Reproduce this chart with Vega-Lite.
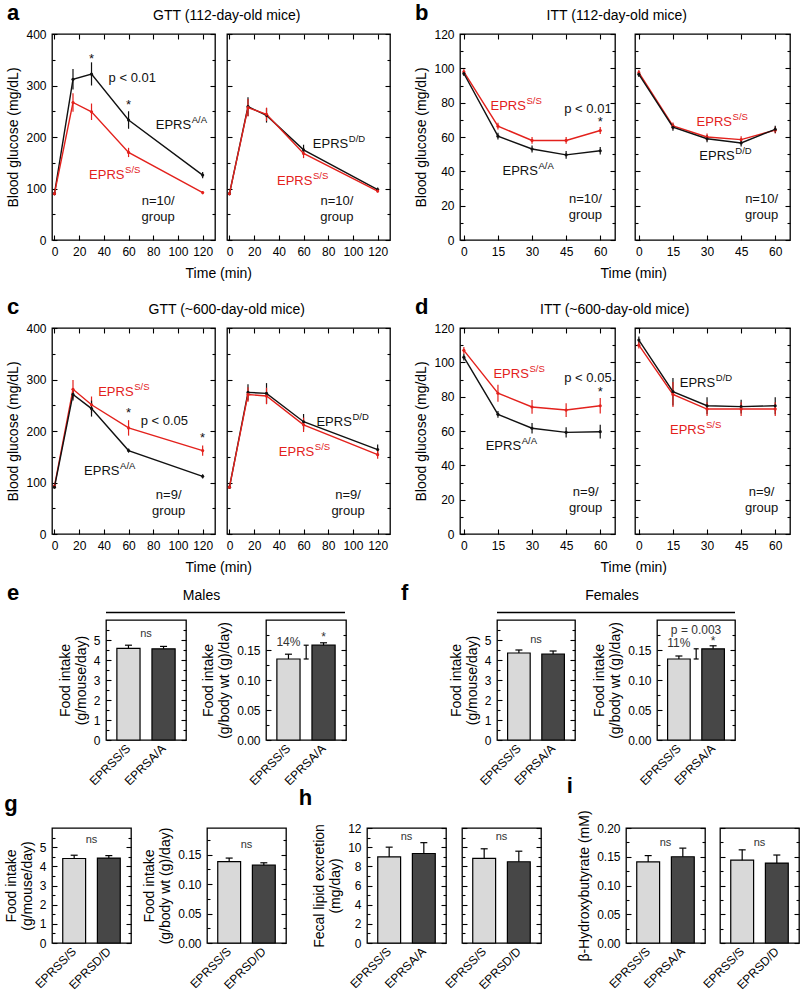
{
"$schema":"https://vega.github.io/schema/vega-lite/v6.json",
"padding":{"left":3,"top":1,"right":2,"bottom":2},
"background":"white",
"config":{
 "font":"Liberation Sans",
 "view":{"stroke":"#000","strokeWidth":1.3},
 "axis":{"grid":false,"domain":false,"tickSize":-5,"tickColor":"#000","tickWidth":1.1,"labelFontSize":12,"labelColor":"#000","labelPadding":11,"labelFlush":false,"labelOverlap":false,"titleFontSize":14,"titleFontWeight":"normal","titleColor":"#000","titlePadding":5},
 "title":{"fontSize":14,"fontWeight":"normal","color":"#000"}
},
"datasets":{
"aL":[
{"k":"d","c":"k","t":0,"g":90,"lo":87,"hi":93},{"k":"d","c":"k","t":15,"g":312,"lo":292,"hi":332},{"k":"d","c":"k","t":30,"g":322,"lo":300,"hi":345},{"k":"d","c":"k","t":60,"g":233,"lo":216,"hi":250},{"k":"d","c":"k","t":120,"g":126,"lo":120,"hi":132},
{"k":"d","c":"r","t":0,"g":90,"lo":87,"hi":93},{"k":"d","c":"r","t":15,"g":267,"lo":249,"hi":285},{"k":"d","c":"r","t":30,"g":249,"lo":233,"hi":265},{"k":"d","c":"r","t":60,"g":170,"lo":161,"hi":179},{"k":"d","c":"r","t":120,"g":92,"lo":89,"hi":95},
{"k":"m","c":"k","t":82,"g":223,"txt":"EPRS"},{"k":"s","c":"k","t":82,"g":223,"txt":"A/A"},
{"k":"m","c":"r","t":28,"g":126,"txt":"EPRS"},{"k":"s","c":"r","t":28,"g":126,"txt":"S/S"},
{"k":"p","c":"k","t":30,"g":352,"txt":"*"},{"k":"p","c":"k","t":60,"g":263,"txt":"*"},{"k":"p","c":"k","t":63,"g":314,"txt":"p < 0.01"},{"k":"p","c":"k","t":84,"g":76,"txt":"n=10/"},{"k":"p","c":"k","t":84,"g":44,"txt":"group"}],
"aR":[
{"k":"d","c":"k","t":0,"g":90,"lo":87,"hi":93},{"k":"d","c":"k","t":15,"g":259,"lo":241,"hi":277},{"k":"d","c":"k","t":30,"g":242,"lo":228,"hi":256},{"k":"d","c":"k","t":60,"g":175,"lo":165,"hi":185},{"k":"d","c":"k","t":120,"g":98,"lo":94,"hi":102},
{"k":"d","c":"r","t":0,"g":90,"lo":87,"hi":93},{"k":"d","c":"r","t":15,"g":257,"lo":240,"hi":274},{"k":"d","c":"r","t":30,"g":244,"lo":231,"hi":257},{"k":"d","c":"r","t":60,"g":168,"lo":159,"hi":177},{"k":"d","c":"r","t":120,"g":95,"lo":92,"hi":98},
{"k":"m","c":"k","t":67.5,"g":186,"txt":"EPRS"},{"k":"s","c":"k","t":67.5,"g":186,"txt":"D/D"},
{"k":"m","c":"r","t":38.5,"g":115,"txt":"EPRS"},{"k":"s","c":"r","t":38.5,"g":115,"txt":"S/S"},
{"k":"p","c":"k","t":87,"g":76,"txt":"n=10/"},{"k":"p","c":"k","t":87,"g":44,"txt":"group"}],
"bL":[
{"k":"d","c":"r","t":0,"g":98,"lo":96.5,"hi":99.5},{"k":"d","c":"r","t":15,"g":66.3,"lo":64.3,"hi":68.3},{"k":"d","c":"r","t":30,"g":58,"lo":56,"hi":60},{"k":"d","c":"r","t":45,"g":58,"lo":56,"hi":60},{"k":"d","c":"r","t":60,"g":63.8,"lo":61.8,"hi":65.8},
{"k":"d","c":"k","t":0,"g":97,"lo":95.5,"hi":98.5},{"k":"d","c":"k","t":15,"g":60.5,"lo":58.5,"hi":62.5},{"k":"d","c":"k","t":30,"g":53,"lo":51,"hi":55},{"k":"d","c":"k","t":45,"g":49.6,"lo":47.4,"hi":51.8},{"k":"d","c":"k","t":60,"g":52,"lo":49.8,"hi":54.2},
{"k":"m","c":"r","t":11.7,"g":78,"txt":"EPRS"},{"k":"s","c":"r","t":11.7,"g":78,"txt":"S/S"},
{"k":"m","c":"k","t":17,"g":40.4,"txt":"EPRS"},{"k":"s","c":"k","t":17,"g":40.4,"txt":"A/A"},
{"k":"p","c":"k","t":54.6,"g":76.5,"txt":"p < 0.01"},{"k":"p","c":"k","t":60,"g":69,"txt":"*"},{"k":"p","c":"k","t":53.5,"g":23.8,"txt":"n=10/"},{"k":"p","c":"k","t":53.5,"g":14.5,"txt":"group"}],
"bR":[
{"k":"d","c":"r","t":0,"g":97.5,"lo":96,"hi":99},{"k":"d","c":"r","t":15,"g":66.5,"lo":64.5,"hi":68.5},{"k":"d","c":"r","t":30,"g":60,"lo":58,"hi":62},{"k":"d","c":"r","t":45,"g":58.5,"lo":56.5,"hi":60.5},{"k":"d","c":"r","t":60,"g":64,"lo":62,"hi":66},
{"k":"d","c":"k","t":0,"g":96.5,"lo":95,"hi":98},{"k":"d","c":"k","t":15,"g":65.7,"lo":63.7,"hi":67.7},{"k":"d","c":"k","t":30,"g":59,"lo":57,"hi":61},{"k":"d","c":"k","t":45,"g":56.5,"lo":54.5,"hi":58.5},{"k":"d","c":"k","t":60,"g":64.5,"lo":62.5,"hi":66.5},
{"k":"m","c":"r","t":25.4,"g":68.7,"txt":"EPRS"},{"k":"s","c":"r","t":25.4,"g":68.7,"txt":"S/S"},
{"k":"m","c":"k","t":26.6,"g":48.8,"txt":"EPRS"},{"k":"s","c":"k","t":26.6,"g":48.8,"txt":"D/D"},
{"k":"p","c":"k","t":54,"g":23.8,"txt":"n=10/"},{"k":"p","c":"k","t":54,"g":14.5,"txt":"group"}],
"cL":[
{"k":"d","c":"r","t":0,"g":93,"lo":90,"hi":96},{"k":"d","c":"r","t":15,"g":281,"lo":263,"hi":299},{"k":"d","c":"r","t":30,"g":251,"lo":235,"hi":267},{"k":"d","c":"r","t":60,"g":206,"lo":191,"hi":221},{"k":"d","c":"r","t":120,"g":162,"lo":152,"hi":172},
{"k":"d","c":"k","t":0,"g":91,"lo":88,"hi":94},{"k":"d","c":"k","t":15,"g":271,"lo":259,"hi":283},{"k":"d","c":"k","t":30,"g":243.5,"lo":228,"hi":259},{"k":"d","c":"k","t":60,"g":162,"lo":158,"hi":166},{"k":"d","c":"k","t":120,"g":112,"lo":108,"hi":116},
{"k":"m","c":"r","t":35.4,"g":276,"txt":"EPRS"},{"k":"s","c":"r","t":35.4,"g":276,"txt":"S/S"},
{"k":"m","c":"k","t":24,"g":123,"txt":"EPRS"},{"k":"s","c":"k","t":24,"g":123,"txt":"A/A"},
{"k":"p","c":"k","t":60,"g":234,"txt":"*"},{"k":"p","c":"k","t":89,"g":219,"txt":"p < 0.05"},{"k":"p","c":"k","t":120,"g":187,"txt":"*"},{"k":"p","c":"k","t":92.5,"g":75,"txt":"n=9/"},{"k":"p","c":"k","t":92.5,"g":45,"txt":"group"}],
"cR":[
{"k":"d","c":"k","t":0,"g":91,"lo":88,"hi":94},{"k":"d","c":"k","t":15,"g":275,"lo":259,"hi":291},{"k":"d","c":"k","t":30,"g":273,"lo":253,"hi":293},{"k":"d","c":"k","t":60,"g":218,"lo":203,"hi":233},{"k":"d","c":"k","t":120,"g":164,"lo":154,"hi":174},
{"k":"d","c":"r","t":0,"g":91,"lo":88,"hi":94},{"k":"d","c":"r","t":15,"g":271,"lo":257,"hi":285},{"k":"d","c":"r","t":30,"g":268,"lo":252,"hi":284},{"k":"d","c":"r","t":60,"g":212,"lo":198,"hi":226},{"k":"d","c":"r","t":120,"g":154,"lo":146,"hi":162},
{"k":"m","c":"k","t":70.4,"g":218,"txt":"EPRS"},{"k":"s","c":"k","t":70.4,"g":218,"txt":"D/D"},
{"k":"m","c":"r","t":40,"g":160,"txt":"EPRS"},{"k":"s","c":"r","t":40,"g":160,"txt":"S/S"},
{"k":"p","c":"k","t":96,"g":75,"txt":"n=9/"},{"k":"p","c":"k","t":96,"g":45,"txt":"group"}],
"dL":[
{"k":"d","c":"r","t":0,"g":107,"lo":105,"hi":109},{"k":"d","c":"r","t":15,"g":82,"lo":77,"hi":87},{"k":"d","c":"r","t":30,"g":74,"lo":70,"hi":78},{"k":"d","c":"r","t":45,"g":72.2,"lo":68.2,"hi":76.2},{"k":"d","c":"r","t":60,"g":74.7,"lo":70.2,"hi":79.2},
{"k":"d","c":"k","t":0,"g":103,"lo":101,"hi":105},{"k":"d","c":"k","t":15,"g":69.7,"lo":67.7,"hi":71.7},{"k":"d","c":"k","t":30,"g":61.6,"lo":58.6,"hi":64.6},{"k":"d","c":"k","t":45,"g":59.2,"lo":56.2,"hi":62.2},{"k":"d","c":"k","t":60,"g":59.6,"lo":55.6,"hi":63.6},
{"k":"m","c":"r","t":13,"g":93,"txt":"EPRS"},{"k":"s","c":"r","t":13,"g":93,"txt":"S/S"},
{"k":"m","c":"k","t":9.6,"g":51,"txt":"EPRS"},{"k":"s","c":"k","t":9.6,"g":51,"txt":"A/A"},
{"k":"p","c":"k","t":54.6,"g":90.6,"txt":"p < 0.05"},{"k":"p","c":"k","t":60,"g":83,"txt":"*"},{"k":"p","c":"k","t":53.6,"g":24.4,"txt":"n=9/"},{"k":"p","c":"k","t":53.6,"g":15.2,"txt":"group"}],
"dR":[
{"k":"d","c":"k","t":0,"g":113,"lo":111,"hi":115},{"k":"d","c":"k","t":15,"g":82.9,"lo":74.9,"hi":90.9},{"k":"d","c":"k","t":30,"g":74.7,"lo":69.7,"hi":79.7},{"k":"d","c":"k","t":45,"g":74.2,"lo":70.2,"hi":78.2},{"k":"d","c":"k","t":60,"g":74.7,"lo":69.7,"hi":79.7},
{"k":"d","c":"r","t":0,"g":110,"lo":108,"hi":112},{"k":"d","c":"r","t":15,"g":81.3,"lo":74,"hi":88.6},{"k":"d","c":"r","t":30,"g":72.8,"lo":68.8,"hi":76.8},{"k":"d","c":"r","t":45,"g":72.8,"lo":68.8,"hi":76.8},{"k":"d","c":"r","t":60,"g":72.8,"lo":68.8,"hi":76.8},
{"k":"m","c":"k","t":18,"g":87.7,"txt":"EPRS"},{"k":"s","c":"k","t":18,"g":87.7,"txt":"D/D"},
{"k":"m","c":"r","t":13.7,"g":60.6,"txt":"EPRS"},{"k":"s","c":"r","t":13.7,"g":60.6,"txt":"S/S"},
{"k":"p","c":"k","t":54,"g":24.4,"txt":"n=9/"},{"k":"p","c":"k","t":54,"g":15.2,"txt":"group"}],
"eL":[{"k":"d","c":"L","x":"EPRSS/S","v":4.58,"hi":4.74},{"k":"d","c":"D","x":"EPRSA/A","v":4.56,"hi":4.68},{"k":"c","x":"EPRSS/S","v":5.3,"txt":"ns"}],
"eR":[{"k":"d","c":"L","x":"EPRSS/S","v":0.135,"hi":0.143},{"k":"d","c":"D","x":"EPRSA/A","v":0.158,"hi":0.162},{"k":"b","x":"EPRSS/S","v":0.163,"txt":"14%"},{"k":"b","x":"EPRSA/A","v":0.172,"txt":"*"},{"k":"r","x":"EPRSA/A","v":0.135,"hi":0.158},{"k":"rc","x":"EPRSA/A","v":0.135},{"k":"rc","x":"EPRSA/A","v":0.158}],
"fL":[{"k":"d","c":"L","x":"EPRSS/S","v":4.35,"hi":4.5},{"k":"d","c":"D","x":"EPRSA/A","v":4.3,"hi":4.45},{"k":"c","x":"EPRSS/S","v":5.0,"txt":"ns"}],
"fR":[{"k":"d","c":"L","x":"EPRSS/S","v":0.135,"hi":0.14},{"k":"d","c":"D","x":"EPRSA/A","v":0.152,"hi":0.157},{"k":"c","x":"EPRSS/S","v":0.184,"txt":"p = 0.003"},{"k":"b","x":"EPRSS/S","v":0.162,"txt":"11%"},{"k":"b","x":"EPRSA/A","v":0.165,"txt":"*"},{"k":"r","x":"EPRSA/A","v":0.135,"hi":0.152},{"k":"rc","x":"EPRSA/A","v":0.135},{"k":"rc","x":"EPRSA/A","v":0.152}],
"gL":[{"k":"d","c":"L","x":"EPRSS/S","v":4.41,"hi":4.58},{"k":"d","c":"D","x":"EPRSD/D","v":4.43,"hi":4.56},{"k":"c","x":"EPRSS/S","v":5.37,"txt":"ns"}],
"gR":[{"k":"d","c":"L","x":"EPRSS/S","v":0.138,"hi":0.144},{"k":"d","c":"D","x":"EPRSD/D","v":0.132,"hi":0.136},{"k":"c","x":"EPRSS/S","v":0.167,"txt":"ns"}],
"hL":[{"k":"d","c":"L","x":"EPRSS/S","v":8.98,"hi":10.0},{"k":"d","c":"D","x":"EPRSA/A","v":9.34,"hi":10.47},{"k":"c","x":"EPRSS/S","v":11.1,"txt":"ns"}],
"hR":[{"k":"d","c":"L","x":"EPRSS/S","v":8.84,"hi":9.83},{"k":"d","c":"D","x":"EPRSD/D","v":8.48,"hi":9.58},{"k":"c","x":"EPRSS/S","v":11.1,"txt":"ns"}],
"iL":[{"k":"d","c":"L","x":"EPRSS/S","v":0.141,"hi":0.152},{"k":"d","c":"D","x":"EPRSA/A","v":0.150,"hi":0.165},{"k":"c","x":"EPRSS/S","v":0.174,"txt":"ns"}],
"iR":[{"k":"d","c":"L","x":"EPRSS/S","v":0.144,"hi":0.162},{"k":"d","c":"D","x":"EPRSD/D","v":0.139,"hi":0.153},{"k":"c","x":"EPRSS/S","v":0.174,"txt":"ns"}]
},
"spacing":6,
"vconcat":[
{"spacing":14,"vconcat":[
 {"spacing":22,"hconcat":[
  {"title":{"text":"GTT (112-day-old mice)","anchor":"middle","offset":-22,"dx":28},"hconcat":[
   {"title":{"text":"Time (min)","orient":"bottom","anchor":"middle","offset":9,"dx":20},"bounds":"flush","spacing":12,"hconcat":[
    {"width":163,"height":206,"data":{"name":"aL"},"title":{"text":"a","anchor":"start","fontSize":22,"fontWeight":"bold","offset":3},"resolve":{"axis":{"x":"independent","y":"independent"}},"layer":[
     {"transform":[{"filter":"datum.k=='d'"}],"mark":{"type":"rule","strokeWidth":1.2},"encoding":{"x":{"field":"t","type":"quantitative","scale":{"domain":[-2,130],"nice":false,"zero":false},"axis":{"orient":"bottom","values":[0,20,40,60,80,100,120],"title":null}},"y":{"field":"lo","type":"quantitative","scale":{"domain":[0,400],"nice":false},"axis":{"orient":"left","values":[0,100,200,300,400],"title":"Blood glucose (mg/dL)"}},"y2":{"field":"hi"},"color":{"field":"c","type":"nominal","scale":{"domain":["k","r","L","D"],"range":["#111111","#e3211c","#d9d9d9","#474747"]},"legend":null}}},
     {"transform":[{"filter":"datum.k=='d'"}],"mark":{"type":"line","strokeWidth":1.4},"encoding":{"x":{"field":"t","type":"quantitative","axis":{"orient":"top","values":[0,20,40,60,80,100,120],"labels":false,"title":null}},"y":{"field":"g","type":"quantitative","axis":{"orient":"right","values":[0,100,200,300,400],"labels":false,"title":null}},"color":{"field":"c","type":"nominal","legend":null}}},
     {"transform":[{"filter":"datum.k=='d'"}],"mark":{"type":"point","filled":true,"size":10,"opacity":1},"encoding":{"x":{"field":"t","type":"quantitative","axis":null},"y":{"field":"g","type":"quantitative","axis":{"orient":"left","values":[50,150,250,350],"labels":false,"title":null,"tickSize":-3}},"color":{"field":"c","type":"nominal","legend":null}}},
     {"transform":[{"filter":"datum.k=='m'"}],"mark":{"type":"text","align":"left","baseline":"middle","fontSize":13},"encoding":{"x":{"field":"t","type":"quantitative","axis":null},"y":{"field":"g","type":"quantitative","axis":{"orient":"right","values":[50,150,250,350],"labels":false,"title":null,"tickSize":-3}},"text":{"field":"txt"},"color":{"field":"c","type":"nominal","legend":null}}},
     {"transform":[{"filter":"datum.k=='s'"}],"mark":{"type":"text","align":"left","baseline":"middle","fontSize":9.5,"dx":36,"dy":-5},"encoding":{"x":{"field":"t","type":"quantitative","axis":null},"y":{"field":"g","type":"quantitative","axis":null},"text":{"field":"txt"},"color":{"field":"c","type":"nominal","legend":null}}},
     {"transform":[{"filter":"datum.k=='p'"}],"mark":{"type":"text","align":"center","baseline":"middle","fontSize":13},"encoding":{"x":{"field":"t","type":"quantitative","axis":null},"y":{"field":"g","type":"quantitative","axis":null},"text":{"field":"txt"},"color":{"field":"c","type":"nominal","legend":null}}}
    ]},
    {"width":163,"height":206,"data":{"name":"aR"},"resolve":{"axis":{"x":"independent","y":"independent"}},"layer":[
     {"transform":[{"filter":"datum.k=='d'"}],"mark":{"type":"rule","strokeWidth":1.2},"encoding":{"x":{"field":"t","type":"quantitative","scale":{"domain":[-2,130],"nice":false,"zero":false},"axis":{"orient":"bottom","values":[0,20,40,60,80,100,120],"title":null}},"y":{"field":"lo","type":"quantitative","scale":{"domain":[0,400],"nice":false},"axis":{"orient":"left","values":[0,100,200,300,400],"labels":false,"title":null}},"y2":{"field":"hi"},"color":{"field":"c","type":"nominal","scale":{"domain":["k","r","L","D"],"range":["#111111","#e3211c","#d9d9d9","#474747"]},"legend":null}}},
     {"transform":[{"filter":"datum.k=='d'"}],"mark":{"type":"line","strokeWidth":1.4},"encoding":{"x":{"field":"t","type":"quantitative","axis":{"orient":"top","values":[0,20,40,60,80,100,120],"labels":false,"title":null}},"y":{"field":"g","type":"quantitative","axis":{"orient":"right","values":[0,100,200,300,400],"labels":false,"title":null}},"color":{"field":"c","type":"nominal","legend":null}}},
     {"transform":[{"filter":"datum.k=='d'"}],"mark":{"type":"point","filled":true,"size":10,"opacity":1},"encoding":{"x":{"field":"t","type":"quantitative","axis":null},"y":{"field":"g","type":"quantitative","axis":{"orient":"left","values":[50,150,250,350],"labels":false,"title":null,"tickSize":-3}},"color":{"field":"c","type":"nominal","legend":null}}},
     {"transform":[{"filter":"datum.k=='m'"}],"mark":{"type":"text","align":"left","baseline":"middle","fontSize":13},"encoding":{"x":{"field":"t","type":"quantitative","axis":null},"y":{"field":"g","type":"quantitative","axis":{"orient":"right","values":[50,150,250,350],"labels":false,"title":null,"tickSize":-3}},"text":{"field":"txt"},"color":{"field":"c","type":"nominal","legend":null}}},
     {"transform":[{"filter":"datum.k=='s'"}],"mark":{"type":"text","align":"left","baseline":"middle","fontSize":9.5,"dx":36,"dy":-5},"encoding":{"x":{"field":"t","type":"quantitative","axis":null},"y":{"field":"g","type":"quantitative","axis":null},"text":{"field":"txt"},"color":{"field":"c","type":"nominal","legend":null}}},
     {"transform":[{"filter":"datum.k=='p'"}],"mark":{"type":"text","align":"center","baseline":"middle","fontSize":13},"encoding":{"x":{"field":"t","type":"quantitative","axis":null},"y":{"field":"g","type":"quantitative","axis":null},"text":{"field":"txt"},"color":{"field":"c","type":"nominal","legend":null}}}
    ]}
   ]}
  ]},
  {"title":{"text":"ITT (112-day-old mice)","anchor":"middle","offset":-22,"dx":14},"hconcat":[
   {"title":{"text":"Time (min)","orient":"bottom","anchor":"middle","offset":9,"dx":31},"bounds":"flush","spacing":20,"hconcat":[
    {"width":155,"height":206,"data":{"name":"bL"},"title":{"text":"b","anchor":"start","fontSize":22,"fontWeight":"bold","offset":3},"resolve":{"axis":{"x":"independent","y":"independent"}},"layer":[
     {"transform":[{"filter":"datum.k=='d'"}],"mark":{"type":"rule","strokeWidth":1.2},"encoding":{"x":{"field":"t","type":"quantitative","scale":{"domain":[-1.7,66.5],"nice":false,"zero":false},"axis":{"orient":"bottom","values":[0,15,30,45,60],"title":null}},"y":{"field":"lo","type":"quantitative","scale":{"domain":[0,120],"nice":false},"axis":{"orient":"left","values":[0,20,40,60,80,100,120],"title":"Blood glucose (mg/dL)"}},"y2":{"field":"hi"},"color":{"field":"c","type":"nominal","scale":{"domain":["k","r","L","D"],"range":["#111111","#e3211c","#d9d9d9","#474747"]},"legend":null}}},
     {"transform":[{"filter":"datum.k=='d'"}],"mark":{"type":"line","strokeWidth":1.4},"encoding":{"x":{"field":"t","type":"quantitative","axis":{"orient":"top","values":[0,15,30,45,60],"labels":false,"title":null}},"y":{"field":"g","type":"quantitative","axis":{"orient":"right","values":[0,20,40,60,80,100,120],"labels":false,"title":null}},"color":{"field":"c","type":"nominal","legend":null}}},
     {"transform":[{"filter":"datum.k=='d'"}],"mark":{"type":"point","filled":true,"size":10,"opacity":1},"encoding":{"x":{"field":"t","type":"quantitative","axis":null},"y":{"field":"g","type":"quantitative","axis":{"orient":"left","values":[10,30,50,70,90,110],"labels":false,"title":null,"tickSize":-3}},"color":{"field":"c","type":"nominal","legend":null}}},
     {"transform":[{"filter":"datum.k=='m'"}],"mark":{"type":"text","align":"left","baseline":"middle","fontSize":13},"encoding":{"x":{"field":"t","type":"quantitative","axis":null},"y":{"field":"g","type":"quantitative","axis":{"orient":"right","values":[10,30,50,70,90,110],"labels":false,"title":null,"tickSize":-3}},"text":{"field":"txt"},"color":{"field":"c","type":"nominal","legend":null}}},
     {"transform":[{"filter":"datum.k=='s'"}],"mark":{"type":"text","align":"left","baseline":"middle","fontSize":9.5,"dx":36,"dy":-5},"encoding":{"x":{"field":"t","type":"quantitative","axis":null},"y":{"field":"g","type":"quantitative","axis":null},"text":{"field":"txt"},"color":{"field":"c","type":"nominal","legend":null}}},
     {"transform":[{"filter":"datum.k=='p'"}],"mark":{"type":"text","align":"center","baseline":"middle","fontSize":13},"encoding":{"x":{"field":"t","type":"quantitative","axis":null},"y":{"field":"g","type":"quantitative","axis":null},"text":{"field":"txt"},"color":{"field":"c","type":"nominal","legend":null}}}
    ]},
    {"width":155,"height":206,"data":{"name":"bR"},"resolve":{"axis":{"x":"independent","y":"independent"}},"layer":[
     {"transform":[{"filter":"datum.k=='d'"}],"mark":{"type":"rule","strokeWidth":1.2},"encoding":{"x":{"field":"t","type":"quantitative","scale":{"domain":[-1.7,66.5],"nice":false,"zero":false},"axis":{"orient":"bottom","values":[0,15,30,45,60],"title":null}},"y":{"field":"lo","type":"quantitative","scale":{"domain":[0,120],"nice":false},"axis":{"orient":"left","values":[0,20,40,60,80,100,120],"labels":false,"title":null}},"y2":{"field":"hi"},"color":{"field":"c","type":"nominal","scale":{"domain":["k","r","L","D"],"range":["#111111","#e3211c","#d9d9d9","#474747"]},"legend":null}}},
     {"transform":[{"filter":"datum.k=='d'"}],"mark":{"type":"line","strokeWidth":1.4},"encoding":{"x":{"field":"t","type":"quantitative","axis":{"orient":"top","values":[0,15,30,45,60],"labels":false,"title":null}},"y":{"field":"g","type":"quantitative","axis":{"orient":"right","values":[0,20,40,60,80,100,120],"labels":false,"title":null}},"color":{"field":"c","type":"nominal","legend":null}}},
     {"transform":[{"filter":"datum.k=='d'"}],"mark":{"type":"point","filled":true,"size":10,"opacity":1},"encoding":{"x":{"field":"t","type":"quantitative","axis":null},"y":{"field":"g","type":"quantitative","axis":{"orient":"left","values":[10,30,50,70,90,110],"labels":false,"title":null,"tickSize":-3}},"color":{"field":"c","type":"nominal","legend":null}}},
     {"transform":[{"filter":"datum.k=='m'"}],"mark":{"type":"text","align":"left","baseline":"middle","fontSize":13},"encoding":{"x":{"field":"t","type":"quantitative","axis":null},"y":{"field":"g","type":"quantitative","axis":{"orient":"right","values":[10,30,50,70,90,110],"labels":false,"title":null,"tickSize":-3}},"text":{"field":"txt"},"color":{"field":"c","type":"nominal","legend":null}}},
     {"transform":[{"filter":"datum.k=='s'"}],"mark":{"type":"text","align":"left","baseline":"middle","fontSize":9.5,"dx":36,"dy":-5},"encoding":{"x":{"field":"t","type":"quantitative","axis":null},"y":{"field":"g","type":"quantitative","axis":null},"text":{"field":"txt"},"color":{"field":"c","type":"nominal","legend":null}}},
     {"transform":[{"filter":"datum.k=='p'"}],"mark":{"type":"text","align":"center","baseline":"middle","fontSize":13},"encoding":{"x":{"field":"t","type":"quantitative","axis":null},"y":{"field":"g","type":"quantitative","axis":null},"text":{"field":"txt"},"color":{"field":"c","type":"nominal","legend":null}}}
    ]}
   ]}
  ]}
 ]},
 {"spacing":22,"hconcat":[
  {"title":{"text":"GTT (~600-day-old mice)","anchor":"middle","offset":-22,"dx":28},"hconcat":[
   {"title":{"text":"Time (min)","orient":"bottom","anchor":"middle","offset":9,"dx":20},"bounds":"flush","spacing":12,"hconcat":[
    {"width":163,"height":206,"data":{"name":"cL"},"title":{"text":"c","anchor":"start","fontSize":22,"fontWeight":"bold","offset":3},"resolve":{"axis":{"x":"independent","y":"independent"}},"layer":[
     {"transform":[{"filter":"datum.k=='d'"}],"mark":{"type":"rule","strokeWidth":1.2},"encoding":{"x":{"field":"t","type":"quantitative","scale":{"domain":[-2,130],"nice":false,"zero":false},"axis":{"orient":"bottom","values":[0,20,40,60,80,100,120],"title":null}},"y":{"field":"lo","type":"quantitative","scale":{"domain":[0,400],"nice":false},"axis":{"orient":"left","values":[0,100,200,300,400],"title":"Blood glucose (mg/dL)"}},"y2":{"field":"hi"},"color":{"field":"c","type":"nominal","scale":{"domain":["k","r","L","D"],"range":["#111111","#e3211c","#d9d9d9","#474747"]},"legend":null}}},
     {"transform":[{"filter":"datum.k=='d'"}],"mark":{"type":"line","strokeWidth":1.4},"encoding":{"x":{"field":"t","type":"quantitative","axis":{"orient":"top","values":[0,20,40,60,80,100,120],"labels":false,"title":null}},"y":{"field":"g","type":"quantitative","axis":{"orient":"right","values":[0,100,200,300,400],"labels":false,"title":null}},"color":{"field":"c","type":"nominal","legend":null}}},
     {"transform":[{"filter":"datum.k=='d'"}],"mark":{"type":"point","filled":true,"size":10,"opacity":1},"encoding":{"x":{"field":"t","type":"quantitative","axis":null},"y":{"field":"g","type":"quantitative","axis":{"orient":"left","values":[50,150,250,350],"labels":false,"title":null,"tickSize":-3}},"color":{"field":"c","type":"nominal","legend":null}}},
     {"transform":[{"filter":"datum.k=='m'"}],"mark":{"type":"text","align":"left","baseline":"middle","fontSize":13},"encoding":{"x":{"field":"t","type":"quantitative","axis":null},"y":{"field":"g","type":"quantitative","axis":{"orient":"right","values":[50,150,250,350],"labels":false,"title":null,"tickSize":-3}},"text":{"field":"txt"},"color":{"field":"c","type":"nominal","legend":null}}},
     {"transform":[{"filter":"datum.k=='s'"}],"mark":{"type":"text","align":"left","baseline":"middle","fontSize":9.5,"dx":36,"dy":-5},"encoding":{"x":{"field":"t","type":"quantitative","axis":null},"y":{"field":"g","type":"quantitative","axis":null},"text":{"field":"txt"},"color":{"field":"c","type":"nominal","legend":null}}},
     {"transform":[{"filter":"datum.k=='p'"}],"mark":{"type":"text","align":"center","baseline":"middle","fontSize":13},"encoding":{"x":{"field":"t","type":"quantitative","axis":null},"y":{"field":"g","type":"quantitative","axis":null},"text":{"field":"txt"},"color":{"field":"c","type":"nominal","legend":null}}}
    ]},
    {"width":163,"height":206,"data":{"name":"cR"},"resolve":{"axis":{"x":"independent","y":"independent"}},"layer":[
     {"transform":[{"filter":"datum.k=='d'"}],"mark":{"type":"rule","strokeWidth":1.2},"encoding":{"x":{"field":"t","type":"quantitative","scale":{"domain":[-2,130],"nice":false,"zero":false},"axis":{"orient":"bottom","values":[0,20,40,60,80,100,120],"title":null}},"y":{"field":"lo","type":"quantitative","scale":{"domain":[0,400],"nice":false},"axis":{"orient":"left","values":[0,100,200,300,400],"labels":false,"title":null}},"y2":{"field":"hi"},"color":{"field":"c","type":"nominal","scale":{"domain":["k","r","L","D"],"range":["#111111","#e3211c","#d9d9d9","#474747"]},"legend":null}}},
     {"transform":[{"filter":"datum.k=='d'"}],"mark":{"type":"line","strokeWidth":1.4},"encoding":{"x":{"field":"t","type":"quantitative","axis":{"orient":"top","values":[0,20,40,60,80,100,120],"labels":false,"title":null}},"y":{"field":"g","type":"quantitative","axis":{"orient":"right","values":[0,100,200,300,400],"labels":false,"title":null}},"color":{"field":"c","type":"nominal","legend":null}}},
     {"transform":[{"filter":"datum.k=='d'"}],"mark":{"type":"point","filled":true,"size":10,"opacity":1},"encoding":{"x":{"field":"t","type":"quantitative","axis":null},"y":{"field":"g","type":"quantitative","axis":{"orient":"left","values":[50,150,250,350],"labels":false,"title":null,"tickSize":-3}},"color":{"field":"c","type":"nominal","legend":null}}},
     {"transform":[{"filter":"datum.k=='m'"}],"mark":{"type":"text","align":"left","baseline":"middle","fontSize":13},"encoding":{"x":{"field":"t","type":"quantitative","axis":null},"y":{"field":"g","type":"quantitative","axis":{"orient":"right","values":[50,150,250,350],"labels":false,"title":null,"tickSize":-3}},"text":{"field":"txt"},"color":{"field":"c","type":"nominal","legend":null}}},
     {"transform":[{"filter":"datum.k=='s'"}],"mark":{"type":"text","align":"left","baseline":"middle","fontSize":9.5,"dx":36,"dy":-5},"encoding":{"x":{"field":"t","type":"quantitative","axis":null},"y":{"field":"g","type":"quantitative","axis":null},"text":{"field":"txt"},"color":{"field":"c","type":"nominal","legend":null}}},
     {"transform":[{"filter":"datum.k=='p'"}],"mark":{"type":"text","align":"center","baseline":"middle","fontSize":13},"encoding":{"x":{"field":"t","type":"quantitative","axis":null},"y":{"field":"g","type":"quantitative","axis":null},"text":{"field":"txt"},"color":{"field":"c","type":"nominal","legend":null}}}
    ]}
   ]}
  ]},
  {"title":{"text":"ITT (~600-day-old mice)","anchor":"middle","offset":-22,"dx":12},"hconcat":[
   {"title":{"text":"Time (min)","orient":"bottom","anchor":"middle","offset":9,"dx":31},"bounds":"flush","spacing":20,"hconcat":[
    {"width":155,"height":206,"data":{"name":"dL"},"title":{"text":"d","anchor":"start","fontSize":22,"fontWeight":"bold","offset":3},"resolve":{"axis":{"x":"independent","y":"independent"}},"layer":[
     {"transform":[{"filter":"datum.k=='d'"}],"mark":{"type":"rule","strokeWidth":1.2},"encoding":{"x":{"field":"t","type":"quantitative","scale":{"domain":[-1.7,66.5],"nice":false,"zero":false},"axis":{"orient":"bottom","values":[0,15,30,45,60],"title":null}},"y":{"field":"lo","type":"quantitative","scale":{"domain":[0,120],"nice":false},"axis":{"orient":"left","values":[0,20,40,60,80,100,120],"title":"Blood glucose (mg/dL)"}},"y2":{"field":"hi"},"color":{"field":"c","type":"nominal","scale":{"domain":["k","r","L","D"],"range":["#111111","#e3211c","#d9d9d9","#474747"]},"legend":null}}},
     {"transform":[{"filter":"datum.k=='d'"}],"mark":{"type":"line","strokeWidth":1.4},"encoding":{"x":{"field":"t","type":"quantitative","axis":{"orient":"top","values":[0,15,30,45,60],"labels":false,"title":null}},"y":{"field":"g","type":"quantitative","axis":{"orient":"right","values":[0,20,40,60,80,100,120],"labels":false,"title":null}},"color":{"field":"c","type":"nominal","legend":null}}},
     {"transform":[{"filter":"datum.k=='d'"}],"mark":{"type":"point","filled":true,"size":10,"opacity":1},"encoding":{"x":{"field":"t","type":"quantitative","axis":null},"y":{"field":"g","type":"quantitative","axis":{"orient":"left","values":[10,30,50,70,90,110],"labels":false,"title":null,"tickSize":-3}},"color":{"field":"c","type":"nominal","legend":null}}},
     {"transform":[{"filter":"datum.k=='m'"}],"mark":{"type":"text","align":"left","baseline":"middle","fontSize":13},"encoding":{"x":{"field":"t","type":"quantitative","axis":null},"y":{"field":"g","type":"quantitative","axis":{"orient":"right","values":[10,30,50,70,90,110],"labels":false,"title":null,"tickSize":-3}},"text":{"field":"txt"},"color":{"field":"c","type":"nominal","legend":null}}},
     {"transform":[{"filter":"datum.k=='s'"}],"mark":{"type":"text","align":"left","baseline":"middle","fontSize":9.5,"dx":36,"dy":-5},"encoding":{"x":{"field":"t","type":"quantitative","axis":null},"y":{"field":"g","type":"quantitative","axis":null},"text":{"field":"txt"},"color":{"field":"c","type":"nominal","legend":null}}},
     {"transform":[{"filter":"datum.k=='p'"}],"mark":{"type":"text","align":"center","baseline":"middle","fontSize":13},"encoding":{"x":{"field":"t","type":"quantitative","axis":null},"y":{"field":"g","type":"quantitative","axis":null},"text":{"field":"txt"},"color":{"field":"c","type":"nominal","legend":null}}}
    ]},
    {"width":155,"height":206,"data":{"name":"dR"},"resolve":{"axis":{"x":"independent","y":"independent"}},"layer":[
     {"transform":[{"filter":"datum.k=='d'"}],"mark":{"type":"rule","strokeWidth":1.2},"encoding":{"x":{"field":"t","type":"quantitative","scale":{"domain":[-1.7,66.5],"nice":false,"zero":false},"axis":{"orient":"bottom","values":[0,15,30,45,60],"title":null}},"y":{"field":"lo","type":"quantitative","scale":{"domain":[0,120],"nice":false},"axis":{"orient":"left","values":[0,20,40,60,80,100,120],"labels":false,"title":null}},"y2":{"field":"hi"},"color":{"field":"c","type":"nominal","scale":{"domain":["k","r","L","D"],"range":["#111111","#e3211c","#d9d9d9","#474747"]},"legend":null}}},
     {"transform":[{"filter":"datum.k=='d'"}],"mark":{"type":"line","strokeWidth":1.4},"encoding":{"x":{"field":"t","type":"quantitative","axis":{"orient":"top","values":[0,15,30,45,60],"labels":false,"title":null}},"y":{"field":"g","type":"quantitative","axis":{"orient":"right","values":[0,20,40,60,80,100,120],"labels":false,"title":null}},"color":{"field":"c","type":"nominal","legend":null}}},
     {"transform":[{"filter":"datum.k=='d'"}],"mark":{"type":"point","filled":true,"size":10,"opacity":1},"encoding":{"x":{"field":"t","type":"quantitative","axis":null},"y":{"field":"g","type":"quantitative","axis":{"orient":"left","values":[10,30,50,70,90,110],"labels":false,"title":null,"tickSize":-3}},"color":{"field":"c","type":"nominal","legend":null}}},
     {"transform":[{"filter":"datum.k=='m'"}],"mark":{"type":"text","align":"left","baseline":"middle","fontSize":13},"encoding":{"x":{"field":"t","type":"quantitative","axis":null},"y":{"field":"g","type":"quantitative","axis":{"orient":"right","values":[10,30,50,70,90,110],"labels":false,"title":null,"tickSize":-3}},"text":{"field":"txt"},"color":{"field":"c","type":"nominal","legend":null}}},
     {"transform":[{"filter":"datum.k=='s'"}],"mark":{"type":"text","align":"left","baseline":"middle","fontSize":9.5,"dx":36,"dy":-5},"encoding":{"x":{"field":"t","type":"quantitative","axis":null},"y":{"field":"g","type":"quantitative","axis":null},"text":{"field":"txt"},"color":{"field":"c","type":"nominal","legend":null}}},
     {"transform":[{"filter":"datum.k=='p'"}],"mark":{"type":"text","align":"center","baseline":"middle","fontSize":13},"encoding":{"x":{"field":"t","type":"quantitative","axis":null},"y":{"field":"g","type":"quantitative","axis":null},"text":{"field":"txt"},"color":{"field":"c","type":"nominal","legend":null}}}
    ]}
   ]}
  ]}
 ]}
]},
{"spacing":-14,"vconcat":[
 {"spacing":53,"hconcat":[
  {"bounds":"flush","spacing":53,"hconcat":[
   {"width":1,"height":1,"view":{"stroke":null},"title":{"text":"e","anchor":"start","fontSize":22,"fontWeight":"bold","offset":2,"dx":-45},"data":{"values":[{"z":""}]},"mark":{"type":"text"},"encoding":{"text":{"field":"z"}}},
   {"bounds":"flush","spacing":7,"vconcat":[
    {"width":239,"height":1,"view":{"stroke":null},"title":{"text":"Males","anchor":"middle","offset":9,"dx":-24},"data":{"values":[{"a":0,"b":1}]},"mark":{"type":"rule","color":"#000","strokeWidth":1.3},"encoding":{"x":{"field":"a","type":"quantitative","scale":{"domain":[0,1],"nice":false},"axis":null},"x2":{"field":"b"}}},
    {"bounds":"flush","spacing":80,"hconcat":[
     {"width":80,"height":120,"data":{"name":"eL"},"resolve":{"axis":{"x":"independent","y":"independent"}},"layer":[
      {"transform":[{"filter":"datum.k=='d'"}],"mark":{"type":"bar","stroke":"#000","strokeWidth":1.2},"encoding":{"x":{"field":"x","type":"nominal","scale":{"domain":["EPRSS/S","EPRSA/A"],"paddingInner":0.34,"paddingOuter":0.31},"axis":{"orient":"bottom","labels":true,"title":null,"labelAngle":-45,"labelAlign":"right","labelBaseline":"middle","ticks":false,"labelPadding":6}},"y":{"field":"v","type":"quantitative","scale":{"domain":[0,6],"nice":false},"axis":{"orient":"left","values":[0,1,2,3,4,5],"format":"d","title":["Food intake","(g/mouse/day)"]}},"color":{"field":"c","type":"nominal","scale":{"domain":["k","r","L","D"],"range":["#111111","#e3211c","#d9d9d9","#474747"]},"legend":null}}},
      {"transform":[{"filter":"datum.k=='d'"}],"mark":{"type":"rule","color":"#000","strokeWidth":1.2},"encoding":{"x":{"field":"x","type":"nominal","axis":null},"y":{"field":"v","type":"quantitative","axis":{"orient":"right","values":[0,1,2,3,4,5],"labels":false,"title":null}},"y2":{"field":"hi"}}},
      {"transform":[{"filter":"datum.k=='d'"}],"mark":{"type":"point","shape":"M-1,0H1","size":49,"filled":false,"color":"#000","strokeWidth":1.2,"opacity":1},"encoding":{"x":{"field":"x","type":"nominal","axis":null},"y":{"field":"hi","type":"quantitative","axis":{"orient":"left","values":[0.5,1.5,2.5,3.5,4.5,5.5],"labels":false,"title":null,"tickSize":-3}}}},
      {"transform":[{"filter":"datum.k=='c'"}],"mark":{"type":"text","fontSize":11,"color":"#333"},"encoding":{"x":{"field":"x","type":"nominal","bandPosition":1.26,"axis":null},"y":{"field":"v","type":"quantitative","axis":{"orient":"right","values":[0.5,1.5,2.5,3.5,4.5,5.5],"labels":false,"title":null,"tickSize":-3}},"text":{"field":"txt"}}}
     ]},
     {"width":80,"height":120,"data":{"name":"eR"},"resolve":{"axis":{"x":"independent","y":"independent"}},"layer":[
      {"transform":[{"filter":"datum.k=='d'"}],"mark":{"type":"bar","stroke":"#000","strokeWidth":1.2},"encoding":{"x":{"field":"x","type":"nominal","scale":{"domain":["EPRSS/S","EPRSA/A"],"paddingInner":0.34,"paddingOuter":0.31},"axis":{"orient":"bottom","labels":true,"title":null,"labelAngle":-45,"labelAlign":"right","labelBaseline":"middle","ticks":false,"labelPadding":6}},"y":{"field":"v","type":"quantitative","scale":{"domain":[0,0.2],"nice":false},"axis":{"orient":"left","values":[0,0.05,0.1,0.15],"format":".2f","title":["Food intake","(g/body wt (g)/day)"]}},"color":{"field":"c","type":"nominal","scale":{"domain":["k","r","L","D"],"range":["#111111","#e3211c","#d9d9d9","#474747"]},"legend":null}}},
      {"transform":[{"filter":"datum.k=='d'"}],"mark":{"type":"rule","color":"#000","strokeWidth":1.2},"encoding":{"x":{"field":"x","type":"nominal","axis":null},"y":{"field":"v","type":"quantitative","axis":{"orient":"right","values":[0,0.05,0.1,0.15],"labels":false,"title":null}},"y2":{"field":"hi"}}},
      {"transform":[{"filter":"datum.k=='d'"}],"mark":{"type":"point","shape":"M-1,0H1","size":49,"filled":false,"color":"#000","strokeWidth":1.2,"opacity":1},"encoding":{"x":{"field":"x","type":"nominal","axis":null},"y":{"field":"hi","type":"quantitative","axis":{"orient":"left","values":[0.025,0.075,0.125,0.175],"labels":false,"title":null,"tickSize":-3}}}},
      {"transform":[{"filter":"datum.k=='c'"}],"mark":{"type":"text","fontSize":11,"color":"#333"},"encoding":{"x":{"field":"x","type":"nominal","bandPosition":1.26,"axis":null},"y":{"field":"v","type":"quantitative","axis":{"orient":"right","values":[0.025,0.075,0.125,0.175],"labels":false,"title":null,"tickSize":-3}},"text":{"field":"txt"}}},
      {"transform":[{"filter":"datum.k=='b'"}],"mark":{"type":"text","fontSize":12,"color":"#333"},"encoding":{"x":{"field":"x","type":"nominal","axis":null},"y":{"field":"v","type":"quantitative","axis":null},"text":{"field":"txt"}}},
      {"transform":[{"filter":"datum.k=='r'"}],"mark":{"type":"rule","color":"#000","strokeWidth":1.2},"encoding":{"x":{"field":"x","type":"nominal","bandPosition":-0.25,"axis":null},"y":{"field":"v","type":"quantitative","axis":null},"y2":{"field":"hi"}}},
      {"transform":[{"filter":"datum.k=='rc'"}],"mark":{"type":"point","shape":"M-1,0H1","size":25,"filled":false,"color":"#000","strokeWidth":1.2,"opacity":1},"encoding":{"x":{"field":"x","type":"nominal","bandPosition":-0.25,"axis":null},"y":{"field":"v","type":"quantitative","axis":null}}}
     ]}
    ]}
   ]}
  ]},
  {"bounds":"flush","spacing":95,"hconcat":[
   {"width":1,"height":1,"view":{"stroke":null},"title":{"text":"f","anchor":"start","fontSize":22,"fontWeight":"bold","offset":2},"data":{"values":[{"z":""}]},"mark":{"type":"text"},"encoding":{"text":{"field":"z"}}},
   {"bounds":"flush","spacing":7,"vconcat":[
    {"width":238,"height":1,"view":{"stroke":null},"title":{"text":"Females","anchor":"middle","offset":9,"dx":-4},"data":{"values":[{"a":0,"b":1}]},"mark":{"type":"rule","color":"#000","strokeWidth":1.3},"encoding":{"x":{"field":"a","type":"quantitative","scale":{"domain":[0,1],"nice":false},"axis":null},"x2":{"field":"b"}}},
    {"bounds":"flush","spacing":82,"hconcat":[
     {"width":78,"height":120,"data":{"name":"fL"},"resolve":{"axis":{"x":"independent","y":"independent"}},"layer":[
      {"transform":[{"filter":"datum.k=='d'"}],"mark":{"type":"bar","stroke":"#000","strokeWidth":1.2},"encoding":{"x":{"field":"x","type":"nominal","scale":{"domain":["EPRSS/S","EPRSA/A"],"paddingInner":0.34,"paddingOuter":0.31},"axis":{"orient":"bottom","labels":true,"title":null,"labelAngle":-45,"labelAlign":"right","labelBaseline":"middle","ticks":false,"labelPadding":6}},"y":{"field":"v","type":"quantitative","scale":{"domain":[0,6],"nice":false},"axis":{"orient":"left","values":[0,1,2,3,4,5],"format":"d","title":["Food intake","(g/mouse/day)"]}},"color":{"field":"c","type":"nominal","scale":{"domain":["k","r","L","D"],"range":["#111111","#e3211c","#d9d9d9","#474747"]},"legend":null}}},
      {"transform":[{"filter":"datum.k=='d'"}],"mark":{"type":"rule","color":"#000","strokeWidth":1.2},"encoding":{"x":{"field":"x","type":"nominal","axis":null},"y":{"field":"v","type":"quantitative","axis":{"orient":"right","values":[0,1,2,3,4,5],"labels":false,"title":null}},"y2":{"field":"hi"}}},
      {"transform":[{"filter":"datum.k=='d'"}],"mark":{"type":"point","shape":"M-1,0H1","size":49,"filled":false,"color":"#000","strokeWidth":1.2,"opacity":1},"encoding":{"x":{"field":"x","type":"nominal","axis":null},"y":{"field":"hi","type":"quantitative","axis":{"orient":"left","values":[0.5,1.5,2.5,3.5,4.5,5.5],"labels":false,"title":null,"tickSize":-3}}}},
      {"transform":[{"filter":"datum.k=='c'"}],"mark":{"type":"text","fontSize":11,"color":"#333"},"encoding":{"x":{"field":"x","type":"nominal","bandPosition":1.26,"axis":null},"y":{"field":"v","type":"quantitative","axis":{"orient":"right","values":[0.5,1.5,2.5,3.5,4.5,5.5],"labels":false,"title":null,"tickSize":-3}},"text":{"field":"txt"}}}
     ]},
     {"width":78,"height":120,"data":{"name":"fR"},"resolve":{"axis":{"x":"independent","y":"independent"}},"layer":[
      {"transform":[{"filter":"datum.k=='d'"}],"mark":{"type":"bar","stroke":"#000","strokeWidth":1.2},"encoding":{"x":{"field":"x","type":"nominal","scale":{"domain":["EPRSS/S","EPRSA/A"],"paddingInner":0.34,"paddingOuter":0.31},"axis":{"orient":"bottom","labels":true,"title":null,"labelAngle":-45,"labelAlign":"right","labelBaseline":"middle","ticks":false,"labelPadding":6}},"y":{"field":"v","type":"quantitative","scale":{"domain":[0,0.2],"nice":false},"axis":{"orient":"left","values":[0,0.05,0.1,0.15],"format":".2f","title":["Food intake","(g/body wt (g)/day)"]}},"color":{"field":"c","type":"nominal","scale":{"domain":["k","r","L","D"],"range":["#111111","#e3211c","#d9d9d9","#474747"]},"legend":null}}},
      {"transform":[{"filter":"datum.k=='d'"}],"mark":{"type":"rule","color":"#000","strokeWidth":1.2},"encoding":{"x":{"field":"x","type":"nominal","axis":null},"y":{"field":"v","type":"quantitative","axis":{"orient":"right","values":[0,0.05,0.1,0.15],"labels":false,"title":null}},"y2":{"field":"hi"}}},
      {"transform":[{"filter":"datum.k=='d'"}],"mark":{"type":"point","shape":"M-1,0H1","size":49,"filled":false,"color":"#000","strokeWidth":1.2,"opacity":1},"encoding":{"x":{"field":"x","type":"nominal","axis":null},"y":{"field":"hi","type":"quantitative","axis":{"orient":"left","values":[0.025,0.075,0.125,0.175],"labels":false,"title":null,"tickSize":-3}}}},
      {"transform":[{"filter":"datum.k=='c'"}],"mark":{"type":"text","fontSize":12,"color":"#333"},"encoding":{"x":{"field":"x","type":"nominal","bandPosition":1.26,"axis":null},"y":{"field":"v","type":"quantitative","axis":{"orient":"right","values":[0.025,0.075,0.125,0.175],"labels":false,"title":null,"tickSize":-3}},"text":{"field":"txt"}}},
      {"transform":[{"filter":"datum.k=='b'"}],"mark":{"type":"text","fontSize":12,"color":"#333"},"encoding":{"x":{"field":"x","type":"nominal","axis":null},"y":{"field":"v","type":"quantitative","axis":null},"text":{"field":"txt"}}},
      {"transform":[{"filter":"datum.k=='r'"}],"mark":{"type":"rule","color":"#000","strokeWidth":1.2},"encoding":{"x":{"field":"x","type":"nominal","bandPosition":-0.25,"axis":null},"y":{"field":"v","type":"quantitative","axis":null},"y2":{"field":"hi"}}},
      {"transform":[{"filter":"datum.k=='rc'"}],"mark":{"type":"point","shape":"M-1,0H1","size":25,"filled":false,"color":"#000","strokeWidth":1.2,"opacity":1},"encoding":{"x":{"field":"x","type":"nominal","bandPosition":-0.25,"axis":null},"y":{"field":"v","type":"quantitative","axis":null}}}
     ]}
    ]}
   ]}
  ]}
 ]},
 {"spacing":22,"hconcat":[
  {"spacing":10,"hconcat":[
   {"bounds":"flush","spacing":76,"hconcat":[
    {"width":79,"height":115,"data":{"name":"gL"},"title":{"text":"g","anchor":"start","fontSize":22,"fontWeight":"bold","offset":12},"resolve":{"axis":{"x":"independent","y":"independent"}},"layer":[
     {"transform":[{"filter":"datum.k=='d'"}],"mark":{"type":"bar","stroke":"#000","strokeWidth":1.2},"encoding":{"x":{"field":"x","type":"nominal","scale":{"domain":["EPRSS/S","EPRSD/D"],"paddingInner":0.34,"paddingOuter":0.31},"axis":{"orient":"bottom","labels":true,"title":null,"labelAngle":-45,"labelAlign":"right","labelBaseline":"middle","ticks":false,"labelPadding":6}},"y":{"field":"v","type":"quantitative","scale":{"domain":[0,6],"nice":false},"axis":{"orient":"left","values":[0,1,2,3,4,5],"format":"d","title":["Food intake","(g/mouse/day)"]}},"color":{"field":"c","type":"nominal","scale":{"domain":["k","r","L","D"],"range":["#111111","#e3211c","#d9d9d9","#474747"]},"legend":null}}},
     {"transform":[{"filter":"datum.k=='d'"}],"mark":{"type":"rule","color":"#000","strokeWidth":1.2},"encoding":{"x":{"field":"x","type":"nominal","axis":null},"y":{"field":"v","type":"quantitative","axis":{"orient":"right","values":[0,1,2,3,4,5],"labels":false,"title":null}},"y2":{"field":"hi"}}},
     {"transform":[{"filter":"datum.k=='d'"}],"mark":{"type":"point","shape":"M-1,0H1","size":49,"filled":false,"color":"#000","strokeWidth":1.2,"opacity":1},"encoding":{"x":{"field":"x","type":"nominal","axis":null},"y":{"field":"hi","type":"quantitative","axis":{"orient":"left","values":[0.5,1.5,2.5,3.5,4.5,5.5],"labels":false,"title":null,"tickSize":-3}}}},
     {"transform":[{"filter":"datum.k=='c'"}],"mark":{"type":"text","fontSize":11,"color":"#333"},"encoding":{"x":{"field":"x","type":"nominal","bandPosition":1.26,"axis":null},"y":{"field":"v","type":"quantitative","axis":{"orient":"right","values":[0.5,1.5,2.5,3.5,4.5,5.5],"labels":false,"title":null,"tickSize":-3}},"text":{"field":"txt"}}}
    ]},
    {"width":79,"height":115,"data":{"name":"gR"},"resolve":{"axis":{"x":"independent","y":"independent"}},"layer":[
     {"transform":[{"filter":"datum.k=='d'"}],"mark":{"type":"bar","stroke":"#000","strokeWidth":1.2},"encoding":{"x":{"field":"x","type":"nominal","scale":{"domain":["EPRSS/S","EPRSD/D"],"paddingInner":0.34,"paddingOuter":0.31},"axis":{"orient":"bottom","labels":true,"title":null,"labelAngle":-45,"labelAlign":"right","labelBaseline":"middle","ticks":false,"labelPadding":6}},"y":{"field":"v","type":"quantitative","scale":{"domain":[0,0.195],"nice":false},"axis":{"orient":"left","values":[0,0.05,0.1,0.15],"format":".2f","title":["Food intake","(g/body wt (g)/day)"]}},"color":{"field":"c","type":"nominal","scale":{"domain":["k","r","L","D"],"range":["#111111","#e3211c","#d9d9d9","#474747"]},"legend":null}}},
     {"transform":[{"filter":"datum.k=='d'"}],"mark":{"type":"rule","color":"#000","strokeWidth":1.2},"encoding":{"x":{"field":"x","type":"nominal","axis":null},"y":{"field":"v","type":"quantitative","axis":{"orient":"right","values":[0,0.05,0.1,0.15],"labels":false,"title":null}},"y2":{"field":"hi"}}},
     {"transform":[{"filter":"datum.k=='d'"}],"mark":{"type":"point","shape":"M-1,0H1","size":49,"filled":false,"color":"#000","strokeWidth":1.2,"opacity":1},"encoding":{"x":{"field":"x","type":"nominal","axis":null},"y":{"field":"hi","type":"quantitative","axis":{"orient":"left","values":[0.025,0.075,0.125,0.175],"labels":false,"title":null,"tickSize":-3}}}},
     {"transform":[{"filter":"datum.k=='c'"}],"mark":{"type":"text","fontSize":11,"color":"#333"},"encoding":{"x":{"field":"x","type":"nominal","bandPosition":1.26,"axis":null},"y":{"field":"v","type":"quantitative","axis":{"orient":"right","values":[0.025,0.075,0.125,0.175],"labels":false,"title":null,"tickSize":-3}},"text":{"field":"txt"}}}
    ]}
   ]},
   {"bounds":"flush","spacing":16,"hconcat":[
    {"width":79,"height":115,"data":{"name":"hL"},"title":{"text":"h","anchor":"start","fontSize":22,"fontWeight":"bold","offset":12,"dx":-14},"resolve":{"axis":{"x":"independent","y":"independent"}},"layer":[
     {"transform":[{"filter":"datum.k=='d'"}],"mark":{"type":"bar","stroke":"#000","strokeWidth":1.2},"encoding":{"x":{"field":"x","type":"nominal","scale":{"domain":["EPRSS/S","EPRSA/A"],"paddingInner":0.34,"paddingOuter":0.31},"axis":{"orient":"bottom","labels":true,"title":null,"labelAngle":-45,"labelAlign":"right","labelBaseline":"middle","ticks":false,"labelPadding":6}},"y":{"field":"v","type":"quantitative","scale":{"domain":[0,12],"nice":false},"axis":{"orient":"left","values":[0,2,4,6,8,10,12],"format":"d","title":["Fecal lipid excretion","(mg/day)"]}},"color":{"field":"c","type":"nominal","scale":{"domain":["k","r","L","D"],"range":["#111111","#e3211c","#d9d9d9","#474747"]},"legend":null}}},
     {"transform":[{"filter":"datum.k=='d'"}],"mark":{"type":"rule","color":"#000","strokeWidth":1.2},"encoding":{"x":{"field":"x","type":"nominal","axis":null},"y":{"field":"v","type":"quantitative","axis":{"orient":"right","values":[0,2,4,6,8,10,12],"labels":false,"title":null}},"y2":{"field":"hi"}}},
     {"transform":[{"filter":"datum.k=='d'"}],"mark":{"type":"point","shape":"M-1,0H1","size":49,"filled":false,"color":"#000","strokeWidth":1.2,"opacity":1},"encoding":{"x":{"field":"x","type":"nominal","axis":null},"y":{"field":"hi","type":"quantitative","axis":{"orient":"left","values":[1,3,5,7,9,11],"labels":false,"title":null,"tickSize":-3}}}},
     {"transform":[{"filter":"datum.k=='c'"}],"mark":{"type":"text","fontSize":11,"color":"#333"},"encoding":{"x":{"field":"x","type":"nominal","bandPosition":1.26,"axis":null},"y":{"field":"v","type":"quantitative","axis":{"orient":"right","values":[1,3,5,7,9,11],"labels":false,"title":null,"tickSize":-3}},"text":{"field":"txt"}}}
    ]},
    {"width":79,"height":115,"data":{"name":"hR"},"resolve":{"axis":{"x":"independent","y":"independent"}},"layer":[
     {"transform":[{"filter":"datum.k=='d'"}],"mark":{"type":"bar","stroke":"#000","strokeWidth":1.2},"encoding":{"x":{"field":"x","type":"nominal","scale":{"domain":["EPRSS/S","EPRSD/D"],"paddingInner":0.34,"paddingOuter":0.31},"axis":{"orient":"bottom","labels":true,"title":null,"labelAngle":-45,"labelAlign":"right","labelBaseline":"middle","ticks":false,"labelPadding":6}},"y":{"field":"v","type":"quantitative","scale":{"domain":[0,12],"nice":false},"axis":{"orient":"left","values":[0,2,4,6,8,10,12],"labels":false,"title":null}},"color":{"field":"c","type":"nominal","scale":{"domain":["k","r","L","D"],"range":["#111111","#e3211c","#d9d9d9","#474747"]},"legend":null}}},
     {"transform":[{"filter":"datum.k=='d'"}],"mark":{"type":"rule","color":"#000","strokeWidth":1.2},"encoding":{"x":{"field":"x","type":"nominal","axis":null},"y":{"field":"v","type":"quantitative","axis":{"orient":"right","values":[0,2,4,6,8,10,12],"labels":false,"title":null}},"y2":{"field":"hi"}}},
     {"transform":[{"filter":"datum.k=='d'"}],"mark":{"type":"point","shape":"M-1,0H1","size":49,"filled":false,"color":"#000","strokeWidth":1.2,"opacity":1},"encoding":{"x":{"field":"x","type":"nominal","axis":null},"y":{"field":"hi","type":"quantitative","axis":{"orient":"left","values":[1,3,5,7,9,11],"labels":false,"title":null,"tickSize":-3}}}},
     {"transform":[{"filter":"datum.k=='c'"}],"mark":{"type":"text","fontSize":11,"color":"#333"},"encoding":{"x":{"field":"x","type":"nominal","bandPosition":1.26,"axis":null},"y":{"field":"v","type":"quantitative","axis":{"orient":"right","values":[1,3,5,7,9,11],"labels":false,"title":null,"tickSize":-3}},"text":{"field":"txt"}}}
    ]}
   ]}
  ]},
  {"bounds":"flush","spacing":15,"hconcat":[
   {"width":79,"height":115,"data":{"name":"iL"},"title":{"text":"i","anchor":"start","fontSize":22,"fontWeight":"bold","offset":12,"dx":-11},"resolve":{"axis":{"x":"independent","y":"independent"}},"layer":[
    {"transform":[{"filter":"datum.k=='d'"}],"mark":{"type":"bar","stroke":"#000","strokeWidth":1.2},"encoding":{"x":{"field":"x","type":"nominal","scale":{"domain":["EPRSS/S","EPRSA/A"],"paddingInner":0.34,"paddingOuter":0.31},"axis":{"orient":"bottom","labels":true,"title":null,"labelAngle":-45,"labelAlign":"right","labelBaseline":"middle","ticks":false,"labelPadding":6}},"y":{"field":"v","type":"quantitative","scale":{"domain":[0,0.2],"nice":false},"axis":{"orient":"left","values":[0,0.05,0.1,0.15,0.2],"format":".2f","title":"β-Hydroxybutyrate (mM)"}},"color":{"field":"c","type":"nominal","scale":{"domain":["k","r","L","D"],"range":["#111111","#e3211c","#d9d9d9","#474747"]},"legend":null}}},
    {"transform":[{"filter":"datum.k=='d'"}],"mark":{"type":"rule","color":"#000","strokeWidth":1.2},"encoding":{"x":{"field":"x","type":"nominal","axis":null},"y":{"field":"v","type":"quantitative","axis":{"orient":"right","values":[0,0.05,0.1,0.15,0.2],"labels":false,"title":null}},"y2":{"field":"hi"}}},
    {"transform":[{"filter":"datum.k=='d'"}],"mark":{"type":"point","shape":"M-1,0H1","size":49,"filled":false,"color":"#000","strokeWidth":1.2,"opacity":1},"encoding":{"x":{"field":"x","type":"nominal","axis":null},"y":{"field":"hi","type":"quantitative","axis":{"orient":"left","values":[0.025,0.075,0.125,0.175],"labels":false,"title":null,"tickSize":-3}}}},
    {"transform":[{"filter":"datum.k=='c'"}],"mark":{"type":"text","fontSize":11,"color":"#333"},"encoding":{"x":{"field":"x","type":"nominal","bandPosition":1.26,"axis":null},"y":{"field":"v","type":"quantitative","axis":{"orient":"right","values":[0.025,0.075,0.125,0.175],"labels":false,"title":null,"tickSize":-3}},"text":{"field":"txt"}}}
   ]},
   {"width":79,"height":115,"data":{"name":"iR"},"resolve":{"axis":{"x":"independent","y":"independent"}},"layer":[
    {"transform":[{"filter":"datum.k=='d'"}],"mark":{"type":"bar","stroke":"#000","strokeWidth":1.2},"encoding":{"x":{"field":"x","type":"nominal","scale":{"domain":["EPRSS/S","EPRSD/D"],"paddingInner":0.34,"paddingOuter":0.31},"axis":{"orient":"bottom","labels":true,"title":null,"labelAngle":-45,"labelAlign":"right","labelBaseline":"middle","ticks":false,"labelPadding":6}},"y":{"field":"v","type":"quantitative","scale":{"domain":[0,0.2],"nice":false},"axis":{"orient":"left","values":[0,0.05,0.1,0.15,0.2],"labels":false,"title":null}},"color":{"field":"c","type":"nominal","scale":{"domain":["k","r","L","D"],"range":["#111111","#e3211c","#d9d9d9","#474747"]},"legend":null}}},
    {"transform":[{"filter":"datum.k=='d'"}],"mark":{"type":"rule","color":"#000","strokeWidth":1.2},"encoding":{"x":{"field":"x","type":"nominal","axis":null},"y":{"field":"v","type":"quantitative","axis":{"orient":"right","values":[0,0.05,0.1,0.15,0.2],"labels":false,"title":null}},"y2":{"field":"hi"}}},
    {"transform":[{"filter":"datum.k=='d'"}],"mark":{"type":"point","shape":"M-1,0H1","size":49,"filled":false,"color":"#000","strokeWidth":1.2,"opacity":1},"encoding":{"x":{"field":"x","type":"nominal","axis":null},"y":{"field":"hi","type":"quantitative","axis":{"orient":"left","values":[0.025,0.075,0.125,0.175],"labels":false,"title":null,"tickSize":-3}}}},
    {"transform":[{"filter":"datum.k=='c'"}],"mark":{"type":"text","fontSize":11,"color":"#333"},"encoding":{"x":{"field":"x","type":"nominal","bandPosition":1.26,"axis":null},"y":{"field":"v","type":"quantitative","axis":{"orient":"right","values":[0.025,0.075,0.125,0.175],"labels":false,"title":null,"tickSize":-3}},"text":{"field":"txt"}}}
   ]}
  ]}
 ]}
]}
]
}
